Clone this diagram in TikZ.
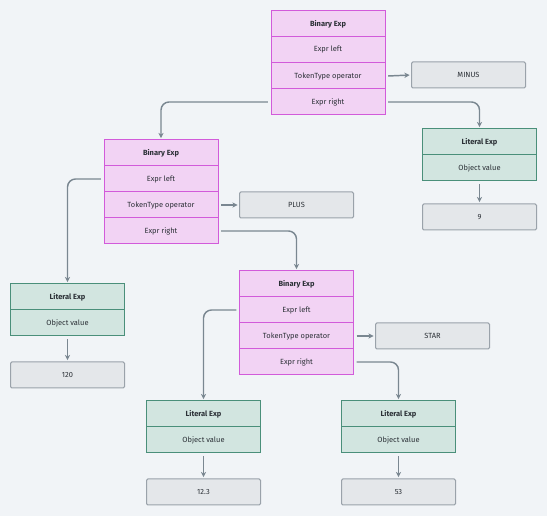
\documentclass[tikz,border=0pt]{standalone}
\usepackage{fontspec}
\setmainfont{Fira Sans}
\usetikzlibrary{arrows.meta}
\definecolor{bgc}{HTML}{F1F4F7}
\definecolor{pinkfill}{HTML}{F2D3F4}
\definecolor{pinkline}{HTML}{D25BDA}
\definecolor{greenfill}{HTML}{D2E5E0}
\definecolor{greenline}{HTML}{4A8F7A}
\definecolor{valfill}{HTML}{E4E7EA}
\definecolor{valline}{HTML}{9AA2AA}
\definecolor{arrowc}{HTML}{7A8791}
\definecolor{txt}{HTML}{2B3036}
\begin{document}
\begin{tikzpicture}[x=0.75pt,y=-0.75pt]
    \tikzstyle{row}=[rectangle, minimum width=85.5pt, minimum height=19.5pt, inner sep=0pt, line width=0.75pt, text=txt, font=\fontsize{5.6}{6}\selectfont]
    \tikzstyle{bin}=[row, fill=pinkfill, draw=pinkline]
    \tikzstyle{lit}=[row, fill=greenfill, draw=greenline]
    \tikzstyle{val}=[row, fill=valfill, draw=valline, rounded corners=1pt]
    \tikzstyle{head}=[font=\fontsize{5.6}{6}\selectfont\bfseries]
    \tikzstyle{conn}=[draw=arrowc, line width=1.1pt, -{Stealth[length=4pt,width=4pt]}, rounded corners=6pt, shorten >=1pt]
    \useasboundingbox (0,0) rectangle (547,516);
    \fill[bgc] (0,0) rectangle (547,516);
    % top binary expression
    \node[bin, head] (b1) at (328,24) {Binary Exp};
    \node[bin] (b1l) at (328,50) {Expr left};
    \node[bin] (b1o) at (328,76) {TokenType operator};
    \node[bin] (b1r) at (328,102) {Expr right};
    \node[val] (minus) at (468.5,75) {MINUS};
    \node[lit, head] (l1) at (479.5,142) {Literal Exp};
    \node[lit] (l1v) at (479.5,168) {Object value};
    \node[val] (nine) at (479.5,217) {9};
    % middle binary expression
    \node[bin, head] (b2) at (161,153) {Binary Exp};
    \node[bin] (b2l) at (161,179) {Expr left};
    \node[bin] (b2o) at (161,205) {TokenType operator};
    \node[bin] (b2r) at (161,231) {Expr right};
    \node[val] (plus) at (296.5,205) {PLUS};
    \node[lit, head] (l2) at (67.5,297) {Literal Exp};
    \node[lit] (l2v) at (67.5,323) {Object value};
    \node[val] (v120) at (67.5,375) {120};
    % bottom binary expression
    \node[bin, head] (b3) at (296.5,284) {Binary Exp};
    \node[bin] (b3l) at (296.5,310) {Expr left};
    \node[bin] (b3o) at (296.5,336) {TokenType operator};
    \node[bin] (b3r) at (296.5,362) {Expr right};
    \node[val] (star) at (432.5,336) {STAR};
    \node[lit, head] (l3) at (203.5,414) {Literal Exp};
    \node[lit] (l3v) at (203.5,440) {Object value};
    \node[val] (v123) at (203.5,492) {12.3};
    \node[lit, head] (l4) at (398.5,414) {Literal Exp};
    \node[lit] (l4v) at (398.5,440) {Object value};
    \node[val] (v53) at (398.5,492) {53};
    % connectors
    \draw[conn] ([xshift=2pt]b1o.east) -- (minus.west);
    \draw[conn] ([xshift=2pt]b1r.east) -| (l1.north);
    \draw[conn] ([xshift=-2pt]b1r.west) -| (b2.north);
    \draw[conn] ([yshift=-2pt]l1v.south) -- (nine.north);
    \draw[conn] ([xshift=2pt]b2o.east) -- (plus.west);
    \draw[conn] ([xshift=-2pt]b2l.west) -| (l2.north);
    \draw[conn] ([xshift=2pt]b2r.east) -| (b3.north);
    \draw[conn] ([yshift=-2pt]l2v.south) -- (v120.north);
    \draw[conn] ([xshift=2pt]b3o.east) -- (star.west);
    \draw[conn] ([xshift=-2pt]b3l.west) -| (l3.north);
    \draw[conn] ([xshift=2pt]b3r.east) -| (l4.north);
    \draw[conn] ([yshift=-2pt]l3v.south) -- (v123.north);
    \draw[conn] ([yshift=-2pt]l4v.south) -- (v53.north);
\end{tikzpicture}
\end{document}
